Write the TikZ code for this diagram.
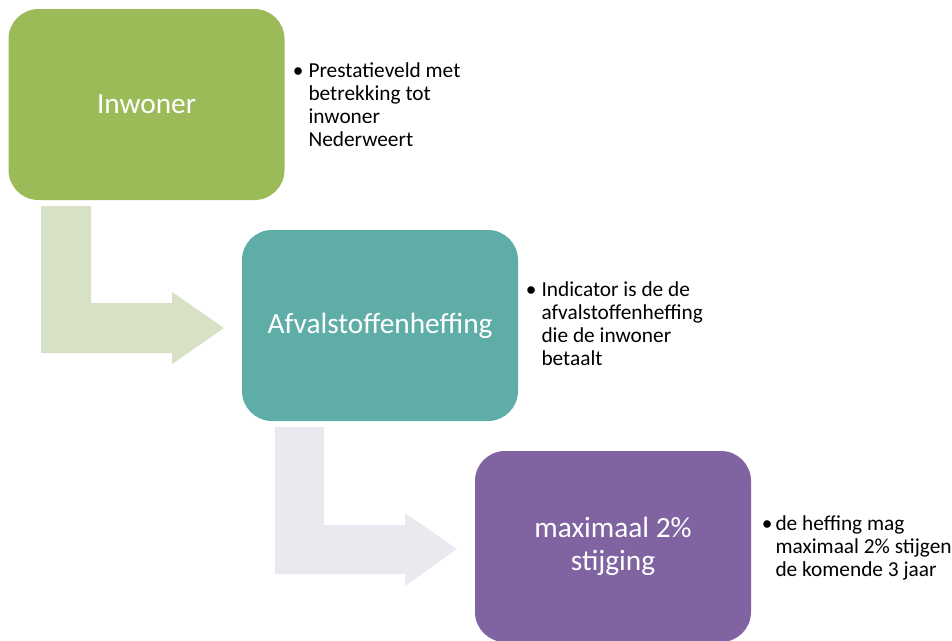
\documentclass[tikz,border=0pt]{standalone}
\usepackage{fontspec}
\setmainfont{Carlito}

\tikzset{every picture/.style={line width=0.75pt}}

\begin{document}
\begin{tikzpicture}[x=0.75pt,y=0.75pt,yscale=-1,xscale=1,
  box/.style={rounded corners=22.5pt, inner sep=0pt, minimum width=207pt, minimum height=143.25pt, align=center, text=white, font=\fontsize{22}{25}\selectfont},
  note/.style={anchor=base west, inner sep=0pt, font=\fontsize{16}{17.4}\selectfont},
  dot/.style={anchor=base east, inner sep=0pt, xshift=-3pt, font=\fontsize{16}{17.4}\selectfont}]
\clip (0,0) rectangle (952,640);

%Shape: Bent Arrow [id:dp1] 
\fill [color={rgb, 255:red, 215; green, 225; blue, 197 }  ] (41,206) -- (91,206) -- (91,303) -- (172,303) -- (172,292) -- (224,328) -- (172,364) -- (172,353) -- (41,353) -- cycle ;
%Shape: Bent Arrow [id:dp2] 
\fill [color={rgb, 255:red, 235; green, 233; blue, 239 }  ] (275,427) -- (324,427) -- (324,525) -- (405,525) -- (405,513) -- (457,549) -- (405,586) -- (405,574) -- (275,574) -- cycle ;

%Rounded Rect [id:dp3] 
\node (inwoner) [box, fill={rgb, 255:red, 155; green, 187; blue, 89 }] at (146.5,104.5) {Inwoner};
%Rounded Rect [id:dp4] 
\node (heffing) [box, fill={rgb, 255:red, 94; green, 174; blue, 167 }] at (380,325.5) {Afvalstoffenheffing};
%Rounded Rect [id:dp5] 
\node (stijging) [box, fill={rgb, 255:red, 128; green, 100; blue, 162 }] at (613,546.5) {maximaal 2\%\\stijging};

% Text Node
\node (noteA) [note] at (308,77) {\begin{tabular}[t]{@{}l@{}}Prestatieveld met\\betrekking tot\\inwoner\\Nederweert\end{tabular}};
\node (dotA) [dot] at (noteA.base west) {\textbullet};
% Text Node
\node (noteB) [note] at (541,296) {\begin{tabular}[t]{@{}l@{}}Indicator is de de\\afvalstoffenheffing\\die de inwoner\\betaalt\end{tabular}};
\node (dotB) [dot] at (noteB.base west) {\textbullet};
% Text Node
\node (noteC) [note] at (775,530) {\begin{tabular}[t]{@{}l@{}}de heffing mag\\maximaal 2\% stijgen\\de komende 3 jaar\end{tabular}};
\node (dotC) [dot, xshift=1.5pt] at (noteC.base west) {\textbullet};

\end{tikzpicture}
\end{document}
